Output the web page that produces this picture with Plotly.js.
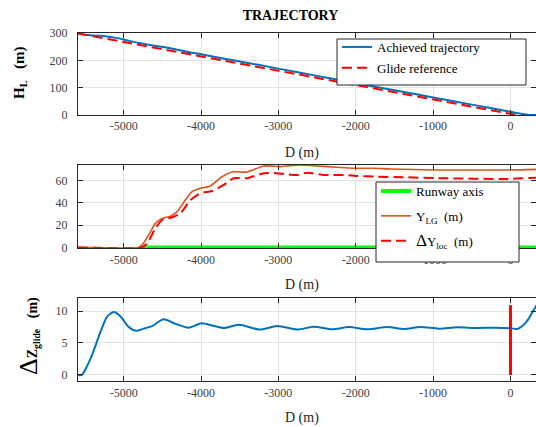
<!DOCTYPE html>
<html><head><meta charset="utf-8">
<script src="https://cdn.plot.ly/plotly-3.0.1.min.js"></script>
<style>html,body{margin:0;padding:0;background:#fff}#chart{width:536px;height:427px}</style>
</head><body><div id="chart"></div>
<script>
// ---- data ----
const distTicks = [-5000, -4000, -3000, -2000, -1000, 0];
const distTickLabels = ['-5000', '-4000', '-3000', '-2000', '-1000', '0'];
const hTicks = [0, 100, 200, 300];
const yTicks = [0, 20, 40, 60];
const dzTicks = [0, 5, 10];

// Top panel: height above runway
const glideD = [-5590, 330];
const glideH = [298, -13];
const achievedD = [-5590, -5500, -5400, -5300, -5200, -5100, -5000, -4900, -4800, -4600, -4450, -4150, -4000, -3700, -3500, -3000, -2500, -2000, -1500, -1000, -500, 0, 100, 200, 270, 330];
const achievedH = [298, 293.6, 291.0, 289.5, 286.5, 282.1, 276.0, 269.4, 263.4, 253.6, 246.8, 229.8, 222.6, 206.1, 196.1, 169.6, 143.2, 116.8, 90.6, 64.2, 38.0, 11.7, 6.4, 2.1, 0, 0];

// Middle panel: lateral deviation
const runwayD = [-4800, 330];
const runwayY = [0, 0];
const yLgD = [-5590, -4806, -4762, -4677, -4590, -4503, -4396, -4309, -4202, -4115, -4008, -3878, -3727, -3598, -3404, -3189, -2973, -2714, -2498, -2239, -2024, -1765, -1550, -990, 0, 330];
const yLg = [0, 0, 2, 11, 21.5, 26, 28, 32, 42.4, 49.9, 52.9, 55, 63.3, 67.5, 67.5, 72.9, 72.3, 73.8, 72.9, 71.7, 70.8, 70.8, 70.2, 69.3, 69.3, 69.8];
const dYlocD = [-5590, -4762, -4697, -4590, -4503, -4374, -4266, -4137, -4008, -3857, -3706, -3577, -3404, -3189, -3016, -2886, -2757, -2628, -2412, -2153, -1990, -1722, -1377, -990, 0, 330];
const dYloc = [0, 0, 3.6, 17, 24.5, 27, 30.5, 42.4, 48.4, 50.5, 55.9, 61.9, 61.9, 66.4, 66.4, 65.4, 64.8, 66.8, 64.8, 64.8, 63.9, 63.3, 62.8, 62, 61.3, 62.4];

// Bottom panel: vertical deviation from glide
const dzD = [-5590, -5540, -5480, -5409, -5301, -5215, -5129, -5043, -4935, -4836, -4741, -4633, -4483, -4331, -4159, -3995, -3857, -3706, -3512, -3232, -3016, -2757, -2542, -2304, -2089, -1851, -1593, -1378, -1162, -925, -687, -450, -192, 3, 89, 154, 218, 283, 338];
const dz = [0, 0, 1.2, 3.1, 6.7, 9.1, 9.85, 9.2, 7.5, 6.9, 7.25, 7.65, 8.7, 8.0, 7.4, 8.1, 7.75, 7.35, 7.85, 7.1, 7.65, 7.1, 7.55, 7.15, 7.5, 7.15, 7.5, 7.2, 7.5, 7.25, 7.45, 7.35, 7.4, 7.3, 7.2, 7.65, 8.5, 9.8, 10.9];
const thresholdD = [0, 0];
const thresholdZ = [0, 10.9];

// ---- style ----
const FONT = 'Liberation Serif, Times New Roman, serif';
const AX = '#262626';
const GRID = '#e3e3e3';
const BLUE = '#0072BD', RED = '#FF0000', ORANGE = '#D95319', GREEN = '#00FF00';
const W = 536, H = 427, L = 78, R = 0;
const px = x => (x - L) / (W - L - R);
const py = y => 1 - y / H;

function xAxis(anchor) {
  return {
    anchor: anchor, range: [-5590, 330], tickmode: 'array', tickvals: distTicks, ticktext: distTickLabels,
    ticks: 'inside', ticklen: 5, tickcolor: AX, showline: true, mirror: 'ticks', linecolor: AX, linewidth: 1,
    showgrid: true, gridcolor: GRID, gridwidth: 1, zeroline: false,
    tickfont: {family: FONT, size: 12, color: '#404040'}
  };
}
function yAxis(anchor, range, ticks, dom) {
  return {
    anchor: anchor, domain: dom, range: range, tickmode: 'array', tickvals: ticks,
    ticks: 'inside', ticklen: 5, tickcolor: AX, showline: true, mirror: 'ticks', linecolor: AX, linewidth: 1,
    showgrid: true, gridcolor: GRID, gridwidth: 1, zeroline: false, ticklabelstandoff: 7,
    tickfont: {family: FONT, size: 12, color: '#404040'}
  };
}

const traces = [
  {x: achievedD, y: achievedH, xaxis: 'x', yaxis: 'y', mode: 'lines', name: 'Achieved trajectory',
   line: {color: BLUE, width: 2, shape: 'spline', smoothing: 0.6}, legend: 'legend', legendgroup: 'a'},
  {x: glideD, y: glideH, xaxis: 'x', yaxis: 'y', mode: 'lines', name: 'Glide reference',
   line: {color: RED, width: 2, dash: '10px,5px'}, legend: 'legend', legendgroup: 'b'},

  {x: runwayD, y: runwayY, xaxis: 'x2', yaxis: 'y2', mode: 'lines', name: 'Runway axis',
   line: {color: GREEN, width: 4}, legend: 'legend2', legendgroup: 'c'},
  {x: yLgD, y: yLg, xaxis: 'x2', yaxis: 'y2', mode: 'lines', name: 'Y<sub>LG</sub>  (m)',
   line: {color: ORANGE, width: 1.6, shape: 'spline', smoothing: 0.6}, legend: 'legend2', legendgroup: 'd'},
  {x: dYlocD, y: dYloc, xaxis: 'x2', yaxis: 'y2', mode: 'lines', name: '<span style="font-size:17px">Δ</span>Y<sub>loc</sub>  (m)',
   line: {color: RED, width: 2, dash: '10px,5px', shape: 'spline', smoothing: 0.6}, legend: 'legend2', legendgroup: 'e'},

  {x: dzD, y: dz, xaxis: 'x3', yaxis: 'y3', mode: 'lines', showlegend: false,
   line: {color: BLUE, width: 2, shape: 'spline', smoothing: 0.7}},
  {x: thresholdD, y: thresholdZ, xaxis: 'x3', yaxis: 'y3', mode: 'lines', showlegend: false,
   line: {color: RED, width: 3}}
];

const legendBase = {
  xref: 'paper', yref: 'paper', xanchor: 'left', yanchor: 'top',
  bgcolor: 'rgba(0,0,0,0)', borderwidth: 0,
  font: {family: FONT, size: 13, color: '#000'}
};

function boxShape(x0, y0, x1, y1) {
  return {type: 'rect', xref: 'paper', yref: 'paper', x0: px(x0), x1: px(x1), y0: py(y1), y1: py(y0),
          fillcolor: '#ffffff', line: {color: AX, width: 1}, layer: 'above'};
}

const layout = {
  width: W, height: H,
  margin: {l: L, r: R, t: 0, b: 0},
  paper_bgcolor: '#fff', plot_bgcolor: '#fff',
  showlegend: true,
  title: {text: '<b>TRAJECTORY</b>', x: 290.5 / W, xref: 'container', xanchor: 'center',
          y: 1 - 15 / H, yref: 'container', yanchor: 'middle',
          font: {family: FONT, size: 14, color: '#000'}},
  xaxis: xAxis('y'),
  yaxis: yAxis('x', [0, 300], hTicks, [py(115), py(33)]),
  xaxis2: xAxis('y2'),
  yaxis2: yAxis('x2', [-0.8, 74], yTicks, [py(248.3), py(164.7)]),
  xaxis3: xAxis('y3'),
  yaxis3: yAxis('x3', [-1, 12], dzTicks, [py(381.3), py(298.3)]),
  legend: Object.assign({}, legendBase, {x: px(337), y: py(32), tracegroupgap: 1}),
  legend2: Object.assign({}, legendBase, {x: px(376), y: py(176), tracegroupgap: 5}),
  shapes: [boxShape(337, 39, 526, 85), boxShape(376, 182, 519, 262)],
  annotations: [
    {text: 'D (m)', xref: 'paper', yref: 'paper', x: px(301.5), y: py(153), showarrow: false,
     xanchor: 'center', yanchor: 'middle', font: {family: FONT, size: 14, color: '#262626'}},
    {text: 'D (m)', xref: 'paper', yref: 'paper', x: px(301.5), y: py(285), showarrow: false,
     xanchor: 'center', yanchor: 'middle', font: {family: FONT, size: 14, color: '#262626'}},
    {text: 'D (m)', xref: 'paper', yref: 'paper', x: px(301.5), y: py(418), showarrow: false,
     xanchor: 'center', yanchor: 'middle', font: {family: FONT, size: 14, color: '#262626'}},
    {text: '<b>H<sub>L</sub>   (m)</b>', xref: 'paper', yref: 'paper', x: px(20), y: py(73), showarrow: false,
     textangle: -90, xanchor: 'center', yanchor: 'middle', font: {family: FONT, size: 15, color: '#000'}},
    {text: '<span style="font-size:26px">Δ</span><b>Z<sub>glide</sub>   (m)</b>', xref: 'paper', yref: 'paper',
     x: px(28), y: py(336), showarrow: false,
     textangle: -90, xanchor: 'center', yanchor: 'middle', font: {family: FONT, size: 14, color: '#000'}}
  ]
};

Plotly.newPlot('chart', traces, layout, {displayModeBar: false, staticPlot: true});
</script>
</body></html>
